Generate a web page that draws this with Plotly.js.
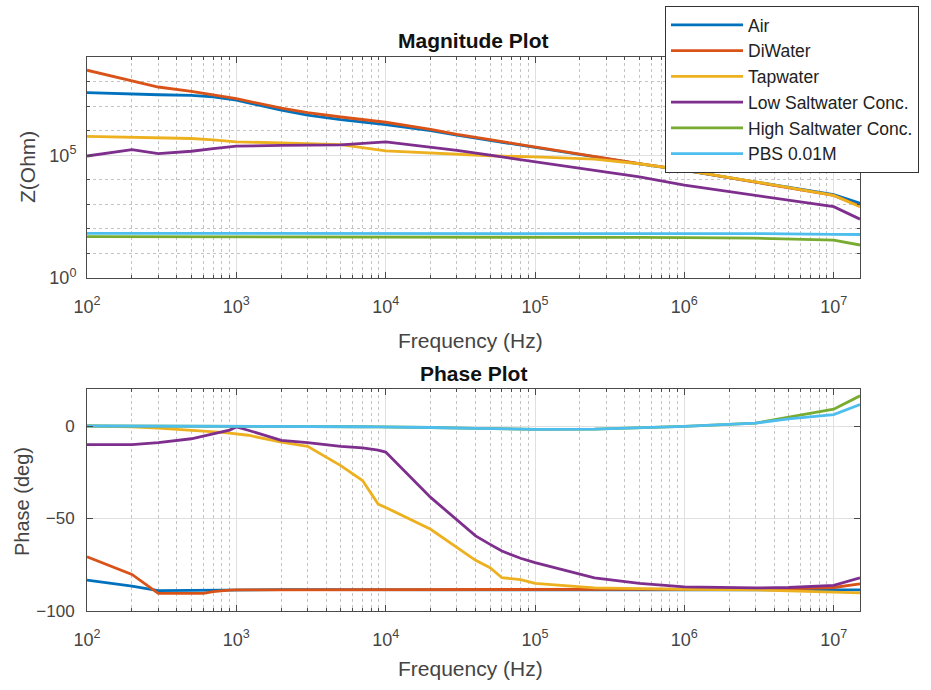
<!DOCTYPE html>
<html>
<head>
<meta charset="utf-8">
<script src="https://cdn.plot.ly/plotly-3.0.1.min.js"></script>
<style>html,body{margin:0;padding:0;background:#fff;}#chart{width:931px;height:690px;}</style>
</head>
<body>
<div id="chart"></div>
<script>
// ---------- data ----------
const seriesNames = ["Air", "DiWater", "Tapwater", "Low Saltwater Conc.", "High Saltwater Conc.", "PBS 0.01M"];
const seriesColors = ["#0072BD", "#D95319", "#EDB120", "#7E2F8E", "#77AC30", "#4DBEEE"];

// Magnitude plot (|Z| in Ohm)
const magFreq = [100, 200, 300, 500, 700, 1000, 2000, 3000, 5000, 1e4, 2e4, 3e4, 5e4, 1e5, 2.5e5, 5e5, 1e6, 3e6, 1e7, 1.5e7];
const magAir      = [3.55e7, 3.0e7, 2.9e7, 2.75e7, 2.4e7, 1.74e7, 6.8e6, 4.3e6, 2.8e6, 1.78e6, 1.0e6, 6.6e5, 4.0e5, 2.0e5, 8.3e4, 4.4e4, 2.4e4, 8.3e3, 2.5e3, 1.1e3];
const magDiWater  = [2.9e8, 1.12e8, 6.0e7, 4.0e7, 2.95e7, 2.0e7, 8.3e6, 5.4e6, 3.6e6, 2.2e6, 1.12e6, 7.1e5, 4.3e5, 2.2e5, 8.5e4, 4.5e4, 2.45e4, 7.9e3, 2.3e3, 830];
const magTap      = [5.9e5, 5.5e5, 5.2e5, 4.8e5, 4.2e5, 3.5e5, 3.2e5, 2.95e5, 2.7e5, 1.5e5, 1.2e5, 1.1e5, 9.5e4, 8.5e4, 6.9e4, 4.5e4, 2.45e4, 8.3e3, 2.3e3, 800];
const magLowSalt  = [9.3e4, 1.7e5, 1.17e5, 1.45e5, 1.86e5, 2.35e5, 2.5e5, 2.57e5, 2.63e5, 3.5e5, 2.2e5, 1.58e5, 1.0e5, 5.4e4, 2.45e4, 1.32e4, 6.0e3, 2.24e3, 800, 250];
const magHighSalt = [48, 48, 48, 48, 48, 48, 48, 48, 48, 48, 47, 47, 47, 46, 46, 45, 44, 42, 35, 22];
const magPBS      = [66, 66, 66, 66, 66, 66, 66, 66, 66, 66, 66, 66, 66, 66, 66, 66, 65, 64, 60, 59];

// Phase plot (deg)
const phaseFreq = [100, 200, 300, 500, 600, 700, 800, 900, 1000, 1200, 2000, 3000, 5000, 7000, 8900, 1e4, 2e4, 4e4, 5e4, 6e4, 8e4, 1e5, 2.5e5, 5e5, 1e6, 3e6, 5e6, 1e7, 1.5e7];
const phAir      = [-83.3, -86.6, -89.0, -88.8, -88.7, -88.6, -88.6, -88.5, -88.5, -88.5, -88.5, -88.5, -88.5, -88.5, -88.5, -88.5, -88.5, -88.4, -88.4, -88.4, -88.4, -88.4, -88.4, -88.4, -88.4, -88.4, -88.5, -88.6, -88.6];
const phDiWater  = [-70.7, -80.2, -90.5, -90.5, -90.5, -89.5, -88.9, -88.7, -88.6, -88.6, -88.6, -88.6, -88.5, -88.5, -88.5, -88.5, -88.5, -88.5, -88.4, -88.4, -88.4, -88.4, -88.4, -88.4, -88.4, -88.2, -88.0, -87.3, -85.3];
const phTap      = [0, -0.5, -1.2, -2.2, -2.6, -3.0, -3.4, -3.8, -4.1, -5.0, -8.7, -11.0, -21.4, -29.5, -42.2, -44.0, -55.8, -72.6, -76.6, -82.0, -83.0, -85.1, -87.5, -88.0, -88.3, -88.6, -89.0, -89.6, -90.2];
const phLowSalt  = [-10.1, -10.1, -9.0, -6.9, -5.5, -4.1, -3.2, -2.2, -0.5, -2.3, -7.8, -9.0, -11.0, -11.8, -13.0, -14.1, -38.6, -59.4, -64.0, -67.6, -71.5, -73.9, -82.1, -85.1, -87.0, -87.5, -87.3, -86.2, -82.1];
const phHighSalt = [0, 0, 0, 0, 0, 0, 0, 0, 0, 0, -0.1, -0.2, -0.3, -0.4, -0.5, -0.5, -0.8, -1.3, -1.5, -1.6, -1.7, -1.8, -1.7, -1.1, -0.2, 1.6, 4.9, 9.1, 16.3];
const phPBS      = [0, 0, 0, 0, 0, 0, 0, 0, 0, 0, -0.1, -0.2, -0.3, -0.4, -0.5, -0.5, -0.8, -1.3, -1.5, -1.6, -1.7, -1.8, -1.7, -1.1, -0.2, 1.6, 3.8, 6.2, 11.6];

// tick labels
const xTickVals = [1e2, 1e3, 1e4, 1e5, 1e6, 1e7];
const xTickText = ["10<sup>2</sup>", "10<sup>3</sup>", "10<sup>4</sup>", "10<sup>5</sup>", "10<sup>6</sup>", "10<sup>7</sup>"];
const magTickVals = [1, 1e5];
const magTickText = ["10<sup>0</sup>", "10<sup>5</sup>"];
const phaseTickVals = [-100, -50, 0];

// ---------- build ----------
const magSeries = [magAir, magDiWater, magTap, magLowSalt, magHighSalt, magPBS];
const phSeries = [phAir, phDiWater, phTap, phLowSalt, phHighSalt, phPBS];

const traces = [];
magSeries.forEach((ys, i) => {
  traces.push({
    x: magFreq, y: ys, type: "scatter", mode: "lines",
    name: seriesNames[i], legendgroup: "g" + i,
    line: {color: seriesColors[i], width: 2.8},
    xaxis: "x", yaxis: "y"
  });
});
phSeries.forEach((ys, i) => {
  traces.push({
    x: phaseFreq, y: ys, type: "scatter", mode: "lines",
    name: seriesNames[i], legendgroup: "g" + i, showlegend: false,
    line: {color: seriesColors[i], width: 2.8},
    xaxis: "x2", yaxis: "y2"
  });
});

// minor log grid positions (2..9 per decade)
const xMinor = [];
for (let e = 2; e <= 7; e++) for (let m = 2; m <= 9; m++) xMinor.push(m * Math.pow(10, e));
const yMinorDecades = [];
for (let e = 1; e <= 8; e++) if (e !== 5) yMinorDecades.push(Math.pow(10, e));

const FONT = "Liberation Sans, Arial, Helvetica, sans-serif";
const TXT = "#444444";
const AX = "#4a4a4a";
const GRID = "#e0e0e0";
const MINOR_GRID = "#c4c4c4";

function xAxis(anchor) {
  return {
    type: "log", range: [2, Math.log10(1.5e7)], anchor: anchor,
    domain: [87 / 931, 860 / 931],
    tickmode: "array", tickvals: xTickVals, ticktext: xTickText,
    ticks: "inside", ticklen: 6, tickcolor: AX, tickwidth: 1,
    showline: true, linecolor: AX, linewidth: 1, mirror: "ticks",
    showgrid: true, gridcolor: GRID, gridwidth: 1,
    zeroline: false,
    tickfont: {family: FONT, size: 18, color: TXT},
    ticklabelstandoff: 12,
    minor: {tickmode: "array", tickvals: xMinor, ticks: "inside", ticklen: 3, tickcolor: AX,
            showgrid: true, gridcolor: MINOR_GRID, griddash: "dot", gridwidth: 1}
  };
}

const layout = {
  width: 931, height: 690,
  margin: {l: 0, r: 0, t: 0, b: 0},
  paper_bgcolor: "#ffffff", plot_bgcolor: "#ffffff",
  font: {family: FONT, color: TXT},
  showlegend: true,
  legend: {
    x: 665 / 931, y: 1 - 6 / 690, xanchor: "left", yanchor: "top",
    bgcolor: "#ffffff", bordercolor: "#333333", borderwidth: 1,
    font: {family: FONT, size: 17.5, color: "#222222"},
    tracegroupgap: 0, itemwidth: 72
  },
  xaxis: xAxis("y"),
  yaxis: {
    type: "log", range: [0, 9], domain: [1 - 278 / 690, 1 - 57 / 690], anchor: "x",
    tickmode: "array", tickvals: magTickVals, ticktext: magTickText,
    ticks: "inside", ticklen: 6, tickcolor: AX,
    showline: true, linecolor: AX, linewidth: 1, mirror: "ticks",
    showgrid: true, gridcolor: GRID, zeroline: false,
    tickfont: {family: FONT, size: 18, color: TXT},
    ticklabelstandoff: 6,
    minor: {tickmode: "array", tickvals: yMinorDecades, ticks: "inside", ticklen: 3, tickcolor: AX,
            showgrid: true, gridcolor: MINOR_GRID, griddash: "dot", gridwidth: 1}
  },
  xaxis2: xAxis("y2"),
  yaxis2: {
    range: [-100, 20], domain: [1 - 611 / 690, 1 - 389 / 690], anchor: "x2",
    tickmode: "array", tickvals: phaseTickVals,
    ticks: "inside", ticklen: 6, tickcolor: AX,
    showline: true, linecolor: AX, linewidth: 1, mirror: "ticks",
    showgrid: true, gridcolor: GRID, zeroline: false,
    tickfont: {family: FONT, size: 17, color: TXT},
    ticklabelstandoff: 8
  },
  annotations: [
    {text: "<b>Magnitude Plot</b>", xref: "paper", yref: "paper", x: 473.5 / 931, y: 1 - 40 / 690,
     xanchor: "center", yanchor: "middle", showarrow: false, font: {family: FONT, size: 21, color: "#111"}},
    {text: "<b>Phase Plot</b>", xref: "paper", yref: "paper", x: 473.5 / 931, y: 1 - 373 / 690,
     xanchor: "center", yanchor: "middle", showarrow: false, font: {family: FONT, size: 21, color: "#111"}},
    {text: "Frequency (Hz)", xref: "paper", yref: "paper", x: 471 / 931, y: 1 - 340 / 690,
     xanchor: "center", yanchor: "middle", showarrow: false, font: {family: FONT, size: 21, color: TXT}},
    {text: "Frequency (Hz)", xref: "paper", yref: "paper", x: 471 / 931, y: 1 - 668 / 690,
     xanchor: "center", yanchor: "middle", showarrow: false, font: {family: FONT, size: 21, color: TXT}},
    {text: "Z(Ohm)", xref: "paper", yref: "paper", x: 27 / 931, y: 1 - 167 / 690, textangle: -90,
     xanchor: "center", yanchor: "middle", showarrow: false, font: {family: FONT, size: 21, color: TXT}},
    {text: "Phase (deg)", xref: "paper", yref: "paper", x: 22 / 931, y: 1 - 502 / 690, textangle: -90,
     xanchor: "center", yanchor: "middle", showarrow: false, font: {family: FONT, size: 20, color: TXT}}
  ]
};

Plotly.newPlot("chart", traces, layout, {displayModeBar: false, staticPlot: true});
</script>
</body>
</html>
